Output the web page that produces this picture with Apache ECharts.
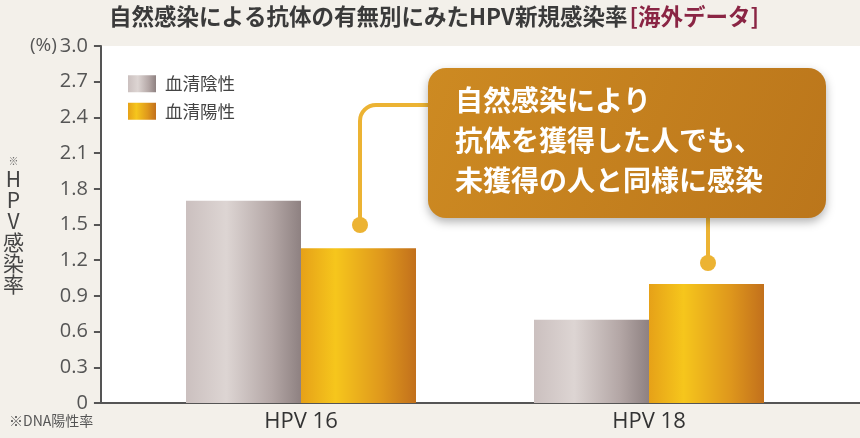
<!DOCTYPE html>
<html>
<head>
<meta charset="utf-8">
<script src="https://cdn.jsdelivr.net/npm/echarts@6/dist/echarts.min.js"></script>
<style>
	html, body { margin: 0; padding: 0; background: #f3f0ea; }
	#chart { width: 860px; height: 438px; }
</style>
</head>
<body>
<div id="chart"></div>
<script>
	// データ
	var categories = ['HPV 16', 'HPV 18'];
	var seriesNames = ['血清陰性', '血清陽性'];
	var negativeValues = [1.7, 0.7];   // 血清陰性
	var positiveValues = [1.3, 1.0];   // 血清陽性
	var yMin = 0, yMax = 3, yStep = 0.3;
	var calloutLines = ['自然感染により', '抗体を獲得した人でも、', '未獲得の人と同様に感染'];

	var font = '"Noto Sans CJK JP", "Noto Sans", sans-serif';
	var numFont = '"Open Sans", sans-serif';
	var lineColor = '#ecb333';

	var myChart = echarts.init(document.getElementById('chart'));
	var option;

	option = {
		backgroundColor: '#f3f0ea',
		textStyle: { fontFamily: font },
		title: {
			left: 109,
			top: 5,
			padding: 0,
			text: '{a|自然感染による抗体の有無別にみたHPV新規感染率}{b|[海外データ]}',
			textStyle: {
				rich: {
					a: { fontSize: 22.5, fontWeight: 'bold', color: '#3a3a3a', fontFamily: font },
					b: { fontSize: 22.5, fontWeight: 'bold', color: '#8a2544', fontFamily: font, padding: [0, 0, 0, 2] }
				}
			}
		},
		legend: {
			orient: 'vertical',
			left: 128,
			top: 75,
			padding: 0,
			itemWidth: 28,
			itemHeight: 17,
			itemGap: 10,
			icon: 'rect',
			data: seriesNames,
			textStyle: { fontSize: 17.5, color: '#444', padding: [0, 0, 0, 4] }
		},
		// grid 0: 軸と白背景, grid 1: 棒
		grid: [
			{ left: 86, right: 0, top: 46, bottom: 35, show: true, backgroundColor: '#ffffff', borderWidth: 0 },
			{ left: 127, width: 696, top: 46, bottom: 35 }
		],
		xAxis: [
			{
				type: 'category',
				gridIndex: 0,
				data: categories,
				axisLine: { lineStyle: { color: '#555', width: 2 } },
				axisTick: { show: false },
				axisLabel: { show: false }
			},
			{
				type: 'category',
				gridIndex: 1,
				data: categories,
				axisLine: { show: false },
				axisTick: { show: false },
				axisLabel: { fontSize: 22, color: '#333', margin: 8, fontFamily: numFont }
			}
		],
		yAxis: [
			{
				type: 'value',
				gridIndex: 0,
				min: yMin,
				max: yMax,
				interval: yStep,
				name: '{s|※}\n{t|H}\n{t|P}\n{t|V}\n{t|感}\n{t|染}\n{t|率}',
				nameLocation: 'middle',
				nameRotate: 0,
				nameGap: 57,
				nameTextStyle: {
					rich: {
						s: { fontSize: 10, lineHeight: 14, color: '#666', align: 'center' },
						t: { fontSize: 21, lineHeight: 21, color: '#444', align: 'center' }
					}
				},
				splitLine: { show: false },
				axisLine: { show: true, lineStyle: { color: '#555', width: 2 } },
				axisTick: { show: true, length: 7, lineStyle: { color: '#555', width: 2 } },
				axisLabel: {
					fontSize: 20,
					color: '#555',
					margin: 13,
					fontFamily: numFont,
					formatter: function (v) {
						if (v === 0) return '0';
						var s = v.toFixed(1);
						return Math.abs(v - yMax) < 1e-9 ? '{u|(%)}' + s : s;
					},
					rich: { u: { fontSize: 19, color: '#555', fontFamily: numFont, padding: [0, 3, 0, 0] } }
				}
			},
			{
				type: 'value',
				gridIndex: 1,
				min: yMin,
				max: yMax,
				show: false,
				splitLine: { show: false }
			}
		],
		series: [
			{
				name: seriesNames[0],
				type: 'bar',
				xAxisIndex: 1,
				yAxisIndex: 1,
				barWidth: 115,
				barGap: '0%',
				itemStyle: {
					color: new echarts.graphic.LinearGradient(0, 0, 1, 0, [
						{ offset: 0, color: '#cbc0bf' },
						{ offset: 0.35, color: '#ddd5d3' },
						{ offset: 0.75, color: '#b3a6a5' },
						{ offset: 1, color: '#8e8181' }
					]),
					shadowBlur: 8,
					shadowColor: 'rgba(0,0,0,0.18)',
					shadowOffsetX: 3
				},
				data: negativeValues
			},
			{
				name: seriesNames[1],
				type: 'bar',
				xAxisIndex: 1,
				yAxisIndex: 1,
				barWidth: 115,
				itemStyle: {
					color: new echarts.graphic.LinearGradient(0, 0, 1, 0, [
						{ offset: 0, color: '#e6a118' },
						{ offset: 0.3, color: '#f6c61c' },
						{ offset: 0.7, color: '#df981c' },
						{ offset: 1, color: '#c2701c' }
					]),
					shadowBlur: 8,
					shadowColor: 'rgba(0,0,0,0.18)',
					shadowOffsetX: 3
				},
				data: positiveValues
			}
		],
		graphic: [
			// 吹き出しの線
			{
				type: 'line', z: 10,
				shape: { x1: 432, y1: 105, x2: 376, y2: 105 },
				style: { stroke: lineColor, lineWidth: 4 }
			},
			{
				type: 'arc', z: 10,
				shape: { cx: 376, cy: 121, r: 16, startAngle: Math.PI, endAngle: Math.PI * 1.5, clockwise: true },
				style: { fill: null, stroke: lineColor, lineWidth: 4 }
			},
			{
				type: 'line', z: 10,
				shape: { x1: 360, y1: 121, x2: 360, y2: 225 },
				style: { stroke: lineColor, lineWidth: 4 }
			},
			{ type: 'circle', z: 10, shape: { cx: 360, cy: 225, r: 8 }, style: { fill: lineColor } },
			{
				type: 'line', z: 10,
				shape: { x1: 708, y1: 215, x2: 708, y2: 263 },
				style: { stroke: lineColor, lineWidth: 4 }
			},
			{ type: 'circle', z: 10, shape: { cx: 708, cy: 263, r: 8 }, style: { fill: lineColor } },
			// 吹き出し
			{
				type: 'rect',
				z: 11,
				shape: { x: 428, y: 68, width: 398, height: 150, r: 18 },
				style: {
					fill: new echarts.graphic.LinearGradient(0, 0, 1, 1, [
						{ offset: 0, color: '#cd8a22' },
						{ offset: 1, color: '#bb761b' }
					]),
					shadowBlur: 10,
					shadowColor: 'rgba(0,0,0,0.3)',
					shadowOffsetY: 4
				}
			},
			{
				type: 'text',
				z: 12,
				left: 455,
				top: 80,
				style: {
					text: calloutLines.join('\n'),
					fill: '#ffffff',
					font: 'bold 28px ' + font,
					lineHeight: 40
				}
			},
			// 注釈
			{
				type: 'text',
				left: 9,
				top: 414,
				style: { text: '※DNA陽性率', fill: '#555', font: '14px ' + font }
			}
		]
	};

	option && myChart.setOption(option);
</script>
</body>
</html>
